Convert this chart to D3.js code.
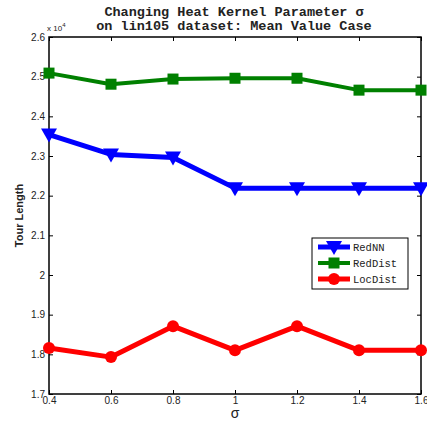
<!DOCTYPE html>
<html>
<head>
<meta charset="utf-8">
<script src="https://cdn.jsdelivr.net/npm/d3@7"></script>
<style>
  body { margin: 0; background: #fff; }
  svg { display: block; }
</style>
</head>
<body>
<svg></svg>
<script>
let sigmas = [0.4, 0.6, 0.8, 1.0, 1.2, 1.4, 1.6]
let redNN = [2.354, 2.304, 2.296, 2.219, 2.219, 2.219, 2.219]
let redDist = [2.509, 2.481, 2.494, 2.496, 2.496, 2.466, 2.466]
let locDist = [1.816, 1.793, 1.871, 1.810, 1.871, 1.810, 1.810]
let xTicks = [0.4, 0.6, 0.8, 1, 1.2, 1.4, 1.6]
let yTicks = [1.7, 1.8, 1.9, 2, 2.1, 2.2, 2.3, 2.4, 2.5, 2.6]

let width = 427
let height = 423
let plotLeft = 49, plotRight = 421, plotTop = 37, plotBottom = 394

let svg = d3.select("svg").attr("width", width).attr("height", height)

let xScale = d3.scaleLinear().domain([0.4, 1.6]).range([plotLeft, plotRight])
let yScale = d3.scaleLinear().domain([1.7, 2.6]).range([plotBottom, plotTop])

let series = [
    { name: "RedNN", values: redNN, color: "#0000ff", width: 5, marker: "tri" },
    { name: "RedDist", values: redDist, color: "#008000", width: 4, marker: "sq" },
    { name: "LocDist", values: locDist, color: "#ff0000", width: 5, marker: "circ" }
]

// axes with inward ticks, box style
let tickStyle = (g) => {
    g.select(".domain").remove()
    g.selectAll("line").attr("stroke", "#000")
    g.selectAll("text").attr("fill", "#222").style("font-family", "Liberation Sans, Arial, sans-serif").style("font-size", "10px")
}

svg.append("g")
    .attr("transform", "translate(0," + plotBottom + ")")
    .call(d3.axisBottom(xScale).tickValues(xTicks).tickSize(-4).tickPadding(4).tickFormat(d3.format("")))
    .call(tickStyle)
    .selectAll("text").attr("dy", "0.55em")

svg.append("g")
    .attr("transform", "translate(0," + plotTop + ")")
    .call(d3.axisTop(xScale).tickValues(xTicks).tickSize(-4).tickFormat(""))
    .call(tickStyle)

svg.append("g")
    .attr("transform", "translate(" + plotLeft + ",0)")
    .call(d3.axisLeft(yScale).tickValues(yTicks).tickSize(-4).tickPadding(4).tickFormat(d3.format("")))
    .call(tickStyle)

svg.append("g")
    .attr("transform", "translate(" + plotRight + ",0)")
    .call(d3.axisRight(yScale).tickValues(yTicks).tickSize(-4).tickFormat(""))
    .call(tickStyle)

svg.append("rect")
    .attr("x", plotLeft).attr("y", plotTop)
    .attr("width", plotRight - plotLeft).attr("height", plotBottom - plotTop)
    .attr("fill", "none").attr("stroke", "#000").attr("stroke-width", 1.5)

let drawMarker = (g, type, color, x, y) => {
    if (type === "tri") {
        g.append("path")
            .attr("d", "M" + (x - 8) + "," + (y - 6) + "L" + (x + 8) + "," + (y - 6) + "L" + x + "," + (y + 8) + "Z")
            .attr("fill", color)
    } else if (type === "sq") {
        g.append("rect").attr("x", x - 5.5).attr("y", y - 5.5).attr("width", 11).attr("height", 11).attr("fill", color)
    } else {
        g.append("circle").attr("cx", x).attr("cy", y).attr("r", 6).attr("fill", color)
    }
}

let line = d3.line().x((d, i) => xScale(sigmas[i])).y(d => yScale(d))

series.forEach(s => {
    svg.append("path")
        .datum(s.values)
        .attr("d", line)
        .attr("fill", "none")
        .attr("stroke", s.color)
        .attr("stroke-width", s.width)
        .attr("stroke-linejoin", "round")
    let g = svg.append("g")
    s.values.forEach((v, i) => drawMarker(g, s.marker, s.color, xScale(sigmas[i]), yScale(v)))
})

// legend
let legend = svg.append("g")
legend.append("rect")
    .attr("x", 312).attr("y", 238).attr("width", 96).attr("height", 51)
    .attr("fill", "#fff").attr("stroke", "#000").attr("stroke-width", 1)
series.forEach((s, i) => {
    let ly = 247 + i * 16
    legend.append("line")
        .attr("x1", 318).attr("x2", 350).attr("y1", ly).attr("y2", ly)
        .attr("stroke", s.color).attr("stroke-width", s.width)
    drawMarker(legend, s.marker, s.color, 334, ly)
    legend.append("text")
        .text(s.name)
        .attr("x", 353).attr("y", ly + 3.5)
        .style("font-family", "Liberation Mono, Courier New, monospace")
        .style("font-size", "10.5px")
        .attr("fill", "#222")
})

// titles
let title = svg.append("text")
    .attr("x", (plotLeft + plotRight) / 2)
    .attr("text-anchor", "middle")
    .style("font-family", "Liberation Mono, Courier New, monospace")
    .style("font-size", "13.5px")
    .style("font-weight", "bold")
    .attr("fill", "#222")
title.append("tspan").attr("x", 234).attr("y", 16).text("Changing Heat Kernel Parameter σ")
title.append("tspan").attr("x", 234).attr("y", 30).text("on lin105 dataset: Mean Value Case")

let mult = svg.append("text")
    .attr("x", 47).attr("y", 31)
    .style("font-family", "Liberation Sans, Arial, sans-serif")
    .style("font-size", "8px")
    .attr("fill", "#222")
mult.append("tspan").text("x 10")
mult.append("tspan").attr("dy", -4).style("font-size", "6px").text("4")

svg.append("text")
    .text("Tour Length")
    .attr("transform", "translate(23," + ((plotTop + plotBottom) / 2) + ") rotate(-90)")
    .attr("text-anchor", "middle")
    .style("font-family", "Liberation Sans, Arial, sans-serif")
    .style("font-size", "11px")
    .style("font-weight", "bold")
    .attr("fill", "#222")

svg.append("text")
    .text("σ")
    .attr("x", (plotLeft + plotRight) / 2).attr("y", 418)
    .attr("text-anchor", "middle")
    .style("font-family", "Liberation Sans, Arial, sans-serif")
    .style("font-size", "14px")
    .attr("fill", "#222")
</script>
</body>
</html>
